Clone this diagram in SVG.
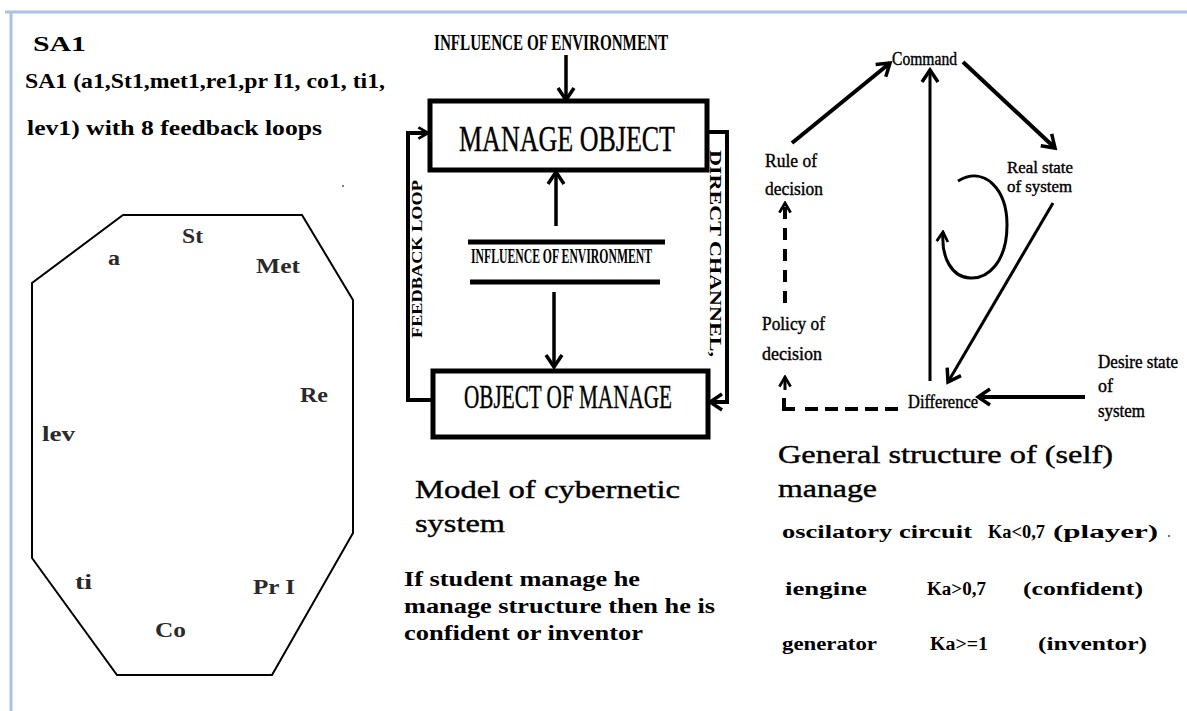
<svg xmlns="http://www.w3.org/2000/svg" width="1187" height="711" viewBox="0 0 1187 711">
  <defs>
    <style>
      .serif { font-family: "Liberation Serif", "DejaVu Serif", serif; fill: #000; }
      .b { font-weight: bold; }
      .med { stroke: #000; stroke-width: 0.4; }
      .lbl { font-family: "Liberation Serif", "DejaVu Serif", serif; font-weight: bold; font-size: 20px; fill: #2a2a2a; }
      .cond { font-family: "Liberation Serif", "DejaVu Serif", serif; fill: #000; }
      .ln { fill: none; stroke: #000; stroke-linecap: butt; stroke-linejoin: miter; }
      .frame { fill: none; stroke: #a9c2e2; stroke-width: 3; }
    </style>
    <marker id="vee" viewBox="0 0 20 20" refX="17" refY="10" markerWidth="20" markerHeight="20" markerUnits="userSpaceOnUse" orient="auto">
      <path d="M5,2 L17,10 L5,18" fill="none" stroke="#000" stroke-width="3.5"/>
    </marker>
    <marker id="veeS" viewBox="0 0 20 20" refX="17" refY="10" markerWidth="16" markerHeight="16" markerUnits="userSpaceOnUse" orient="auto">
      <path d="M5,3 L17,10 L5,17" fill="none" stroke="#000" stroke-width="3.5"/>
    </marker>
  </defs>

  <rect width="1187" height="711" fill="#fff"/>
  <!-- page frame -->
  <path class="frame" d="M5,12 H1187 M11,12 V711"/>

  <!-- left panel: SA1 -->
  <g id="sa1-title">
    <text class="serif b" x="33" y="51" font-size="21" fill="#333" textLength="53" lengthAdjust="spacingAndGlyphs">SA1</text>
    <text class="serif b" x="25" y="88" font-size="20" textLength="360" lengthAdjust="spacingAndGlyphs">SA1 (a1,St1,met1,re1,pr I1, co1, ti1,</text>
    <text class="serif b" x="27" y="135" font-size="20" textLength="295" lengthAdjust="spacingAndGlyphs">lev1) with 8 feedback loops</text>
    <circle cx="343" cy="186" r="1" fill="#555"/>
  </g>

  <g id="octagon">
    <polygon class="ln" stroke-width="2" points="123,215 302,215 353,300 353,533 272,675 117,675 32,558 32,283"/>
    <text class="lbl" x="182" y="243" textLength="21" lengthAdjust="spacingAndGlyphs">St</text>
    <text class="lbl" x="108" y="265" textLength="12" lengthAdjust="spacingAndGlyphs">a</text>
    <text class="lbl" x="256" y="273" textLength="44" lengthAdjust="spacingAndGlyphs">Met</text>
    <text class="lbl" x="300" y="402" textLength="28" lengthAdjust="spacingAndGlyphs">Re</text>
    <text class="lbl" x="42" y="441" textLength="33" lengthAdjust="spacingAndGlyphs">lev</text>
    <text class="lbl" x="75" y="589" textLength="17" lengthAdjust="spacingAndGlyphs">ti</text>
    <text class="lbl" x="253" y="594" textLength="42" lengthAdjust="spacingAndGlyphs">Pr I</text>
    <text class="lbl" x="155" y="637" textLength="31" lengthAdjust="spacingAndGlyphs">Co</text>
  </g>

  <!-- middle panel: cybernetic system -->
  <g id="env-top">
    <text class="cond b" x="434" y="50" font-size="24" textLength="234" lengthAdjust="spacingAndGlyphs">INFLUENCE OF ENVIRONMENT</text>
  </g>
  <g id="manage-object">
    <rect x="430" y="101" width="277" height="69" fill="#fff" stroke="#000" stroke-width="5"/>
    <text class="cond med" x="459" y="151" font-size="36" textLength="216" lengthAdjust="spacingAndGlyphs">MANAGE OBJECT</text>
  </g>
  <g id="env-middle">
    <line class="ln" x1="468" y1="242" x2="665" y2="242" stroke-width="5"/>
    <text class="cond b" x="471" y="263" font-size="21" textLength="181" lengthAdjust="spacingAndGlyphs">INFLUENCE OF ENVIRONMENT</text>
    <line class="ln" x1="470" y1="282" x2="660" y2="282" stroke-width="5"/>
  </g>
  <g id="object-of-manage">
    <rect x="433" y="371" width="275" height="66" fill="#fff" stroke="#000" stroke-width="5"/>
    <text class="cond med" x="464" y="408" font-size="34" textLength="208" lengthAdjust="spacingAndGlyphs">OBJECT OF MANAGE</text>
  </g>
  <g id="loop-labels">
    <text class="cond b" transform="translate(422,338) rotate(-90)" font-size="14" textLength="158" lengthAdjust="spacingAndGlyphs">FEEDBACK LOOP</text>
    <text class="cond b" transform="translate(710,150) rotate(90)" font-size="16" textLength="207" lengthAdjust="spacingAndGlyphs">DIRECT CHANNEL,</text>
  </g>

  <!-- right panel: general structure -->
  <g id="command"><text class="cond med" x="892" y="65" font-size="18" textLength="65" lengthAdjust="spacingAndGlyphs">Command</text></g>
  <g id="rule">
    <text class="cond med" x="765" y="167" font-size="19" textLength="52" lengthAdjust="spacingAndGlyphs">Rule of</text>
    <text class="cond med" x="765" y="195" font-size="19" textLength="58" lengthAdjust="spacingAndGlyphs">decision</text>
  </g>
  <g id="real-state">
    <text class="cond med" x="1007" y="173" font-size="17" textLength="66" lengthAdjust="spacingAndGlyphs">Real state</text>
    <text class="cond med" x="1007" y="192" font-size="17" textLength="65" lengthAdjust="spacingAndGlyphs">of system</text>
  </g>
  <g id="policy">
    <text class="cond med" x="762" y="330" font-size="19" textLength="63" lengthAdjust="spacingAndGlyphs">Policy of</text>
    <text class="cond med" x="762" y="360" font-size="19" textLength="60" lengthAdjust="spacingAndGlyphs">decision</text>
  </g>
  <g id="difference"><text class="cond med" x="908" y="408" font-size="18" textLength="70" lengthAdjust="spacingAndGlyphs">Difference</text></g>
  <g id="desire-state">
    <text class="cond med" x="1098" y="368" font-size="18" textLength="80" lengthAdjust="spacingAndGlyphs">Desire state</text>
    <text class="cond med" x="1098" y="392" font-size="18">of</text>
    <text class="cond med" x="1098" y="417" font-size="18" textLength="47" lengthAdjust="spacingAndGlyphs">system</text>
  </g>

  <!-- connectors -->
  <g id="connectors">
    <line class="ln" x1="566" y1="55" x2="566" y2="100" stroke-width="3.5" marker-end="url(#vee)"/>
    <line class="ln" x1="556" y1="226" x2="556" y2="172" stroke-width="3.5" marker-end="url(#vee)"/>
    <line class="ln" x1="554" y1="292" x2="554" y2="367" stroke-width="3.5" marker-end="url(#vee)"/>
    <path class="ln" d="M433,400 H408 V133 H428" stroke-width="4" marker-end="url(#veeS)"/>
    <path class="ln" d="M707,132 H727 V402 H710" stroke-width="4" marker-end="url(#vee)"/>

    <line class="ln" x1="792" y1="143" x2="890" y2="63" stroke-width="4" marker-end="url(#vee)"/>
    <line class="ln" x1="963" y1="62" x2="1055" y2="148" stroke-width="4" marker-end="url(#vee)"/>
    <line class="ln" x1="930" y1="381" x2="930" y2="70" stroke-width="3" marker-end="url(#vee)"/>
    <line class="ln" x1="1053" y1="203" x2="948" y2="382" stroke-width="3" marker-end="url(#vee)"/>
    <line class="ln" x1="1085" y1="397" x2="978" y2="397" stroke-width="4" marker-end="url(#vee)"/>
    <path class="ln" d="M958,181 C985,165 1007,190 1007,225 C1007,262 988,279 970,278 C952,277 941,258 943,232" stroke-width="3" marker-end="url(#veeS)"/>
    <path class="ln" d="M898,409 H802" stroke-width="4" stroke-dasharray="13 7"/>
    <path class="ln" d="M795,409 H784 V398" stroke-width="4"/>
    <line class="ln" x1="785" y1="390" x2="785" y2="377" stroke-width="3" marker-end="url(#veeS)"/>
    <line class="ln" x1="785" y1="303" x2="785" y2="203" stroke-width="4" stroke-dasharray="12 9" marker-end="url(#veeS)"/>
  </g>

  <!-- captions -->
  <g id="caption-model">
    <text class="serif med" x="415" y="498" font-size="26" textLength="265" lengthAdjust="spacingAndGlyphs">Model of cybernetic</text>
    <text class="serif med" x="415" y="532" font-size="26" textLength="90" lengthAdjust="spacingAndGlyphs">system</text>
  </g>
  <g id="caption-student">
    <text class="serif b" x="404" y="586" font-size="20" textLength="236" lengthAdjust="spacingAndGlyphs">If student manage he</text>
    <text class="serif b" x="404" y="613" font-size="20" textLength="311" lengthAdjust="spacingAndGlyphs">manage structure then he is</text>
    <text class="serif b" x="404" y="640" font-size="20" textLength="239" lengthAdjust="spacingAndGlyphs">confident or inventor</text>
  </g>
  <g id="caption-general">
    <text class="serif med" x="778" y="463" font-size="26" textLength="335" lengthAdjust="spacingAndGlyphs">General structure of (self)</text>
    <text class="serif med" x="778" y="497" font-size="26" textLength="99" lengthAdjust="spacingAndGlyphs">manage</text>
  </g>
  <g id="ka-table" class="serif b" font-size="18">
    <text x="782" y="538" textLength="190" lengthAdjust="spacingAndGlyphs">oscilatory circuit</text>
    <text x="988" y="538" textLength="57" lengthAdjust="spacingAndGlyphs">Ka&lt;0,7</text>
    <text x="1053" y="538" textLength="105" lengthAdjust="spacingAndGlyphs">(player)</text>
    <circle cx="1169" cy="536" r="1.2" fill="#777"/>
    <text x="785" y="595" textLength="82" lengthAdjust="spacingAndGlyphs">iengine</text>
    <text x="927" y="595" textLength="59" lengthAdjust="spacingAndGlyphs">Ka&gt;0,7</text>
    <text x="1023" y="595" textLength="120" lengthAdjust="spacingAndGlyphs">(confident)</text>
    <text x="782" y="650" textLength="95" lengthAdjust="spacingAndGlyphs">generator</text>
    <text x="930" y="650" textLength="58" lengthAdjust="spacingAndGlyphs">Ka&gt;=1</text>
    <text x="1038" y="650" textLength="109" lengthAdjust="spacingAndGlyphs">(inventor)</text>
  </g>
</svg>
